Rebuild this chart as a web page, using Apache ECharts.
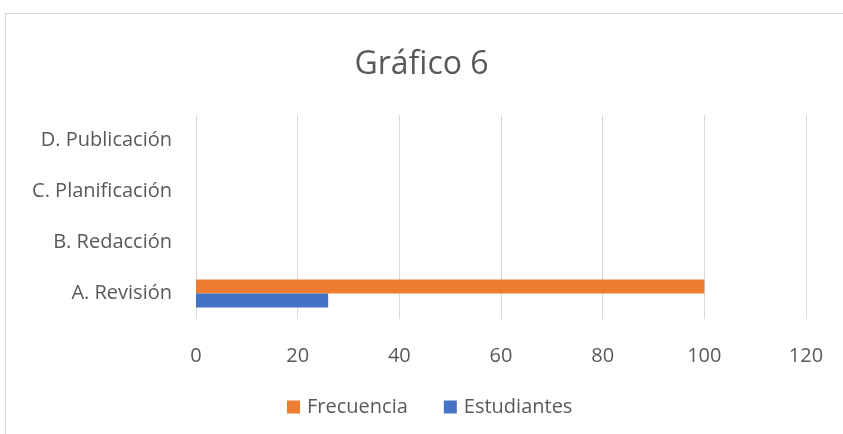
<!DOCTYPE html>
<html>
<head>
<meta charset="utf-8">
<script src="https://cdn.jsdelivr.net/npm/echarts@6/dist/echarts.min.js"></script>
<style>
  html, body { margin: 0; padding: 0; background: #fff; }
  #chart { width: 843px; height: 434px; }
</style>
</head>
<body>
<div id="chart"></div>
<script>
var categories = ['A. Revisión', 'B. Redacción', 'C. Planificación', 'D. Publicación'];
var frecuencia = [100, null, null, null];
var estudiantes = [26, null, null, null];

var myChart = echarts.init(document.getElementById('chart'));
var font = '"Open Sans", Lato, sans-serif';
var option = {
  backgroundColor: '#fff',
  textStyle: { fontFamily: font },
  title: {
    text: 'Gráfico 6',
    left: 'center',
    top: 44,
    textStyle: { color: '#595959', fontSize: 32, fontWeight: 'normal', fontFamily: font }
  },
  legend: {
    data: ['Frecuencia', 'Estudiantes'],
    bottom: 12,
    left: 282,
    itemWidth: 13,
    itemHeight: 13,
    itemGap: 36,
    icon: 'rect',
    textStyle: { color: '#595959', fontSize: 20, fontFamily: font, padding: [0, 0, 0, 2] }
  },
  grid: { left: 196, right: 37, top: 115, bottom: 115 },
  xAxis: {
    type: 'value',
    min: 0,
    max: 120,
    interval: 20,
    axisLine: { show: false },
    axisTick: { show: false },
    axisLabel: { color: '#595959', fontSize: 20, margin: 27, fontFamily: font },
    splitLine: { lineStyle: { color: '#d9d9d9', width: 1 } }
  },
  yAxis: {
    type: 'category',
    data: categories,
    axisLine: { show: false },
    axisTick: { show: false },
    axisLabel: { color: '#595959', fontSize: 20, margin: 24, fontFamily: font }
  },
  series: [
    {
      name: 'Frecuencia',
      type: 'bar',
      data: frecuencia,
      barWidth: 14,
      barGap: '0%',
      itemStyle: { color: '#ed7d31' }
    },
    {
      name: 'Estudiantes',
      type: 'bar',
      data: estudiantes,
      barWidth: 14,
      barGap: '0%',
      itemStyle: { color: '#4472c4' }
    }
  ],
  graphic: [{
    type: 'rect',
    shape: { x: 5.5, y: 13.5, width: 900, height: 500 },
    style: { fill: 'none', stroke: '#d9d9d9', lineWidth: 1 },
    silent: true
  }]
};
myChart.setOption(option);
window.addEventListener('resize', function () { myChart.resize(); });
</script>
</body>
</html>
